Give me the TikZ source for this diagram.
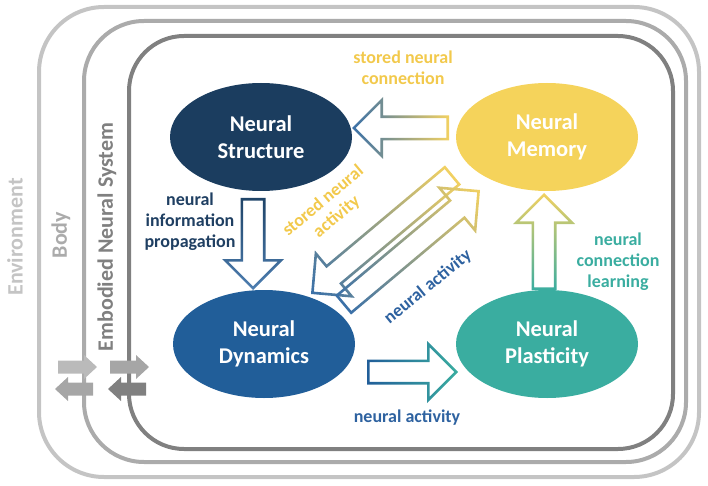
\documentclass[tikz,border=0pt]{standalone}
\usepackage{fontspec}
\setmainfont{Carlito}
\usepackage{tikz}
\usetikzlibrary{positioning,calc,shapes.geometric}

\definecolor{structblue}{HTML}{1B3D5F}
\definecolor{dynblue}{HTML}{215E99}
\definecolor{memyellow}{HTML}{F5D35B}
\definecolor{plastgreen}{HTML}{3AADA0}
\definecolor{arryellow}{HTML}{F2D162}
\definecolor{arrblue}{HTML}{3A70A8}
\definecolor{arrnavy}{HTML}{1F4468}
\definecolor{lblyellow}{HTML}{F2C94C}
\definecolor{lblnavy}{HTML}{1F3F62}
\definecolor{lblblue}{HTML}{2E62A0}
\definecolor{envgrey}{HTML}{C4C4C4}
\definecolor{bodygrey}{HTML}{ABABAB}
\definecolor{ensgrey}{HTML}{808080}

\tikzset{
  shell/.style={draw=#1, line width=4pt},
  hub/.style={ellipse, minimum width=182pt, minimum height=108pt, inner sep=0pt,
    text=white, font=\fontsize{22.5}{27}\selectfont\bfseries, align=center},
  lbl/.style={text=#1, font=\fontsize{18}{21}\selectfont\bfseries, align=center},
  side/.style={text=#1, font=\fontsize{22}{26}\selectfont\bfseries, rotate=90},
}

% angle and length between two named points
\newcommand{\arrowframe}[2]{%
  \path let \p1=(#1), \p2=(#2) in \pgfextra{%
    \pgfmathsetmacro{\arrang}{atan2(\y2-\y1,\x2-\x1)}%
    \pgfmathsetmacro{\arrlen}{veclen(\x2-\x1,\y2-\y1)}%
    \xdef\arrang{\arrang}\xdef\arrlen{\arrlen}};}

% outlined block arrow, colour runs from tail to tip
\newcommand{\blockarrow}[4]{%
  \arrowframe{#1}{#2}%
  \pgfmathsetmacro{\hb}{\arrlen-31}%
  \pgfmathsetmacro{\hbi}{\arrlen-28.4}%
  \pgfmathsetmacro{\tipi}{\arrlen-3.7}%
  \begin{scope}[transform canvas={shift={(#1)},rotate=\arrang}]
    \shade[even odd rule, left color=#3, right color=#4]
      (0,12.5) -- (\hb,12.5) -- (\hb,31) -- (\arrlen,0) -- (\hb,-31) -- (\hb,-12.5) -- (0,-12.5) -- cycle
      (2.6,9.9) -- (\hbi,9.9) -- (\hbi,24.7) -- (\tipi,0) -- (\hbi,-24.7) -- (\hbi,-9.9) -- (2.6,-9.9) -- cycle;
  \end{scope}}

% small filled arrow
\newcommand{\solidarrow}[3]{%
  \arrowframe{#1}{#2}%
  \pgfmathsetmacro{\hb}{\arrlen-13}%
  \begin{scope}[transform canvas={shift={(#1)},rotate=\arrang}]
    \fill[#3] (0,6.5) -- (\hb,6.5) -- (\hb,12) -- (\arrlen,0) -- (\hb,-12) -- (\hb,-6.5) -- (0,-6.5) -- cycle;
  \end{scope}}

\begin{document}
\begin{tikzpicture}[x=1pt,y=-1pt]
  \useasboundingbox (0,0) rectangle (708,486);

  % nested systems
  \draw[shell=envgrey, rounded corners=65pt] (39,7) rectangle (699,477);
  \draw[shell=bodygrey, rounded corners=60pt] (84,21) rectangle (686,462);
  \draw[shell=ensgrey, rounded corners=55pt] (129,36) rectangle (673,449);
  \node[side=envgrey] (envlbl) at (15,237) {Environment};
  \node[side=bodygrey] (bodylbl) at (61,235) {Body};
  \node[side=ensgrey] (enslbl) at (107,237) {Embodied Neural System};

  \node[hub, fill=structblue] (struct) at (261,137) {Neural\\Structure};
  \node[hub, fill=memyellow] (mem) at (547,137) {Neural\\Memory};
  \node[hub, fill=dynblue] (dyn) at (264,344) {Neural\\Dynamics};
  \node[hub, fill=plastgreen] (plast) at (547,344) {Neural\\Plasticity};

  % arrow ends
  \coordinate (memout) at (449,128);
  \coordinate (structin) at (352,128);
  \coordinate (structout) at (253,198);
  \coordinate (dynin) at (253,290);
  \coordinate (dynout) at (367,372);
  \coordinate (plastin) at (458,372);
  \coordinate (plastout) at (544,290);
  \coordinate (memin) at (544,193);
  \coordinate (storeout) at (453,175);
  \coordinate (storein) at (311,294);
  \coordinate (actout) at (343,305);
  \coordinate (actin) at (480,190);

  \blockarrow{memout}{structin}{arryellow}{arrblue}
  \blockarrow{structout}{dynin}{arrnavy}{arrblue!90!white}
  \blockarrow{dynout}{plastin}{dynblue}{plastgreen}
  \blockarrow{plastout}{memin}{plastgreen}{arryellow}
  \blockarrow{storeout}{storein}{arryellow}{arrblue}
  \blockarrow{actout}{actin}{arrblue}{arryellow}

  \node[lbl=lblyellow] (connlbl) at (403,68) {stored neural\\connection};
  \node[lbl=lblnavy] (proplbl) at (190,222) {neural\\information\\propagation};
  \node[lbl=lblyellow, rotate=40] (storelbl) at (330,209) {stored neural\\activity};
  \node[lbl=lblblue, rotate=39] (actlbl) at (428,287) {neural activity};
  \node[lbl=plastgreen] (learnlbl) at (618,262) {neural\\connection\\learning};
  \node[lbl=lblblue] (act2lbl) at (407,418) {neural activity};

  % exchange across the borders
  \coordinate (bodyin0) at (58,367);
  \coordinate (bodyin1) at (97,367);
  \coordinate (bodyout0) at (93,389);
  \coordinate (bodyout1) at (55,389);
  \coordinate (ensin0) at (110,367);
  \coordinate (ensin1) at (149,367);
  \coordinate (ensout0) at (146,389);
  \coordinate (ensout1) at (108,389);
  \solidarrow{bodyin0}{bodyin1}{black!27}
  \solidarrow{bodyout0}{bodyout1}{black!35}
  \solidarrow{ensin0}{ensin1}{black!35}
  \solidarrow{ensout0}{ensout1}{black!50}
\end{tikzpicture}
\end{document}
